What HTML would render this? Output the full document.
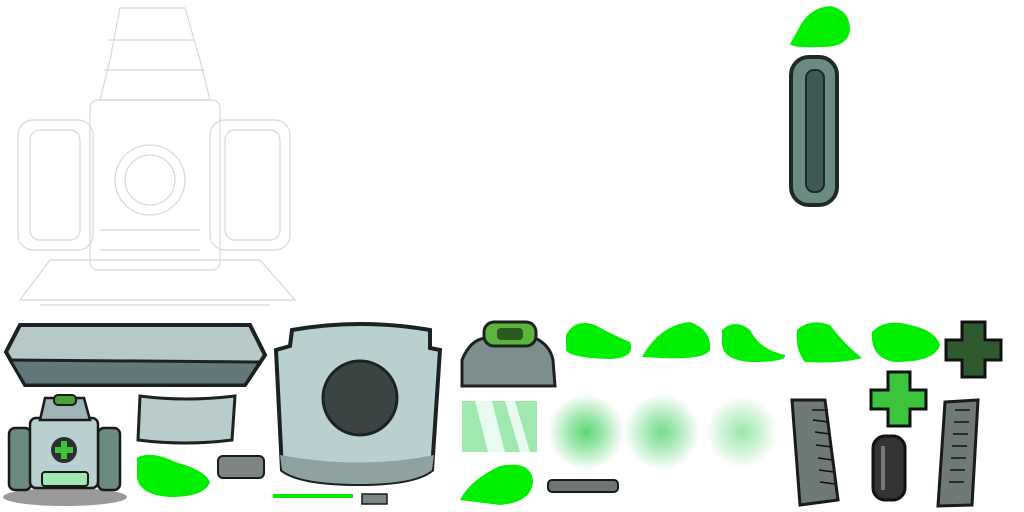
<!DOCTYPE html>
<html><head><meta charset="utf-8"><style>html,body{margin:0;padding:0;background:#fff;width:1024px;height:512px;overflow:hidden}</style></head>
<body>
<svg width="1024" height="512" viewBox="0 0 1024 512" xmlns="http://www.w3.org/2000/svg">
<defs>
<radialGradient id="fz"><stop offset="0" stop-color="#3ecf5a" stop-opacity="0.85"/><stop offset="0.5" stop-color="#3ecf5a" stop-opacity="0.45"/><stop offset="1" stop-color="#3ecf5a" stop-opacity="0"/></radialGradient>
</defs>
<g fill="none" stroke="#d8d8d8" stroke-width="1.2">
<path d="M120 8 L185 8 L200 60 L210 100 L100 100 L110 60 Z"/>
<path d="M108 40 L195 40 M104 70 L205 70"/>
<rect x="90" y="100" width="130" height="170" rx="8"/>
<circle cx="150" cy="180" r="35"/><circle cx="150" cy="180" r="25"/>
<rect x="18" y="120" width="75" height="130" rx="15"/>
<rect x="210" y="120" width="80" height="130" rx="15"/>
<rect x="30" y="130" width="50" height="110" rx="10"/>
<rect x="225" y="130" width="55" height="110" rx="10"/>
<path d="M20 300 L50 260 L260 260 L295 300 Z"/>
<path d="M40 305 L270 305"/>
<path d="M100 230 L200 230 M100 250 L200 250"/>
</g>
<path d="M798 30 Q808 8 830 6 Q850 10 850 30 Q848 48 820 47 Q792 48 790 44 Z" fill="#00ee00"/>
<rect x="791" y="57" width="46" height="148" rx="18" fill="#6b8a82" stroke="#1e2a28" stroke-width="4"/>
<rect x="806" y="70" width="18" height="122" rx="8" fill="#3f5a54" stroke="#1e2a28" stroke-width="2"/>
<path d="M20 325 L250 325 L265 355 L245 385 L25 385 L6 352 Z" fill="#b5c9c9" stroke="#1c2222" stroke-width="4"/>
<path d="M10 360 L260 362 L245 385 L25 385 Z" fill="#62787a" stroke="#1c2222" stroke-width="3"/>
<path d="M292 330 Q360 318 430 330 L430 348 L440 350 L432 470 Q415 484 360 484 Q300 484 282 470 L276 350 L290 346 Z" fill="#b8d0d0" stroke="#1c2222" stroke-width="4"/>
<path d="M280 455 Q360 470 434 455 L432 470 Q415 484 360 484 Q300 484 282 470 Z" fill="#8fa2a2"/>
<circle cx="360" cy="398" r="37" fill="#3a4442" stroke="#1c2222" stroke-width="3"/>
<path d="M462 360 Q470 340 485 338 L535 338 Q550 345 553 360 L555 386 L462 386 Z" fill="#7d8f8d" stroke="#1c2222" stroke-width="3"/>
<rect x="484" y="322" width="52" height="24" rx="10" fill="#5bb53a" stroke="#1c2222" stroke-width="3"/>
<rect x="497" y="328" width="26" height="12" rx="4" fill="#2a5a22"/>
<g fill="#00ee00">
<path d="M566 335 Q575 318 595 325 Q615 336 630 342 Q636 358 610 359 Q570 358 566 350 Z"/>
<path d="M642 357 Q660 325 690 322 Q712 330 710 350 Q705 360 660 358 Z"/>
<path d="M722 330 Q735 318 750 330 Q760 350 785 355 Q788 362 750 362 Q724 360 722 345 Z"/>
<path d="M797 330 Q810 318 830 325 Q845 345 862 358 Q840 364 805 362 Q795 350 797 330 Z"/>
<path d="M872 332 Q885 318 910 325 Q935 330 940 345 Q935 362 895 362 Q870 358 872 332 Z"/>
<path d="M460 500 Q470 480 500 466 Q530 460 533 480 Q533 502 500 505 Z"/>
<path d="M137 458 Q150 450 175 462 Q205 470 210 482 Q205 497 170 497 Q140 495 137 478 Z"/>
</g>
<path d="M962 322 L985 322 L985 340 L1001 340 L1001 360 L985 360 L985 377 L962 377 L962 360 L946 360 L946 340 L962 340 Z" fill="#2e5a2e" stroke="#111" stroke-width="3"/>
<path d="M888 372 L910 372 L910 390 L926 390 L926 409 L910 409 L910 426 L888 426 L888 409 L871 409 L871 390 L888 390 Z" fill="#3cc43c" stroke="#111" stroke-width="3"/>
<path d="M792 400 L825 400 L838 500 L800 505 Z" fill="#6e7a78" stroke="#1a1a1a" stroke-width="3"/>
<path d="M945 402 L978 400 L972 505 L938 506 Z" fill="#6e7a78" stroke="#1a1a1a" stroke-width="3"/>
<g stroke="#111" stroke-width="1.5">
<path d="M812 410 L828 410 M813 420 L829 422 M815 432 L830 434 M816 445 L832 447 M818 458 L833 460 M819 470 L834 472 M820 482 L835 484"/>
<path d="M955 410 L970 410 M954 422 L969 422 M953 434 L968 434 M952 446 L967 446 M951 458 L966 458 M950 470 L965 470 M949 482 L964 482"/>
</g>
<rect x="873" y="436" width="32" height="64" rx="12" fill="#333" stroke="#111" stroke-width="3"/>
<rect x="881" y="446" width="4" height="44" fill="#777"/>
<circle cx="586" cy="432" r="38" fill="url(#fz)"/>
<circle cx="662" cy="432" r="38" fill="url(#fz)" opacity="0.85"/>
<circle cx="742" cy="432" r="36" fill="url(#fz)" opacity="0.6"/>
<rect x="462" y="401" width="75" height="51" fill="#9fe8b0"/>
<path d="M475 401 L492 401 L505 452 L488 452 Z M505 401 L515 401 L530 452 L520 452 Z" fill="#e8fbf0"/>
<rect x="548" y="480" width="70" height="12" rx="4" fill="#6d7575" stroke="#1a1a1a" stroke-width="2"/>
<path d="M140 396 Q185 402 235 396 L232 440 Q185 446 138 440 Z" fill="#b8cccc" stroke="#1c2222" stroke-width="3"/>
<rect x="218" y="456" width="46" height="22" rx="5" fill="#7d8585" stroke="#1a1a1a" stroke-width="2"/>
<rect x="273" y="494" width="80" height="4" fill="#00ee00"/>
<rect x="362" y="494" width="25" height="10" fill="#7d8585" stroke="#1a1a1a" stroke-width="1.5"/>
<ellipse cx="65" cy="497" rx="62" ry="9" fill="#9a9a9a"/>
<rect x="9" y="428" width="22" height="62" rx="6" fill="#6b8a82" stroke="#1a1a1a" stroke-width="2.5"/>
<rect x="98" y="428" width="22" height="62" rx="6" fill="#6b8a82" stroke="#1a1a1a" stroke-width="2.5"/>
<rect x="30" y="418" width="68" height="70" rx="6" fill="#b8d0d0" stroke="#1a1a1a" stroke-width="2.5"/>
<path d="M45 398 L84 398 L90 420 L40 420 Z" fill="#9fb5b5" stroke="#1a1a1a" stroke-width="2.5"/>
<rect x="54" y="395" width="22" height="10" rx="4" fill="#4aa03a" stroke="#1a1a1a" stroke-width="2"/>
<circle cx="64" cy="450" r="13" fill="#2e2e2e"/>
<path d="M61 441 L67 441 L67 447 L73 447 L73 453 L67 453 L67 459 L61 459 L61 453 L55 453 L55 447 L61 447 Z" fill="#3cc43c"/>
<rect x="42" y="472" width="46" height="14" rx="3" fill="#9fe8b0" stroke="#1a1a1a" stroke-width="2"/>
</svg>
</body></html>
